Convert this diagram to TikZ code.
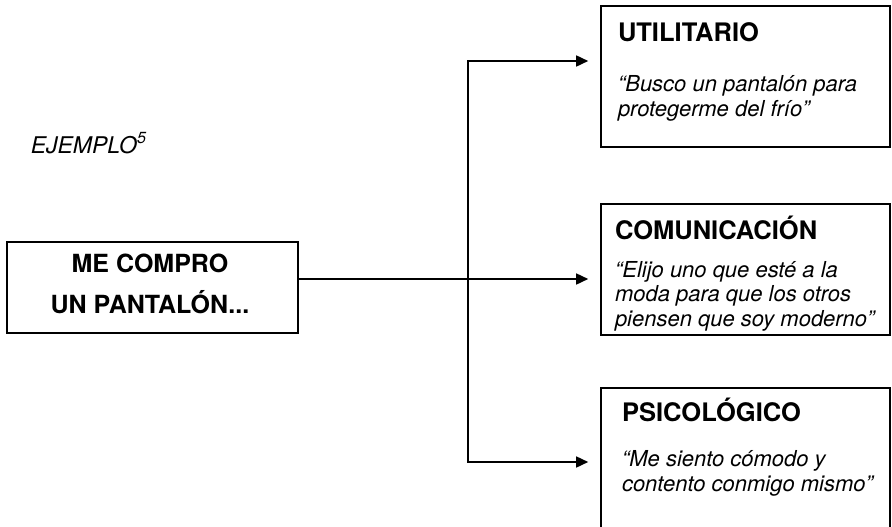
\documentclass[tikz,border=0pt]{standalone}
\usepackage{fontspec}
\setmainfont{TeX Gyre Heros}
\usetikzlibrary{arrows.meta, positioning}

\begin{document}
\begin{tikzpicture}[
    x = 1pt,
    y = -1pt,
    line width = 1.6pt,
    >={Triangle[length=12pt, width=11pt]},
    ]

    \tikzstyle{box}=[
    draw = black,
    fill = white,
    rectangle,
    inner sep = 0pt,
    ]
    \tikzstyle{title}=[inner sep=0pt, anchor=base west, font=\fontsize{25.5}{25.5}\selectfont\bfseries]
    \tikzstyle{quote}=[inner sep=0pt, anchor=base west, align=left, font=\fontsize{22}{24.5}\selectfont\itshape]

    \clip (0,0) rectangle (892,527);

    \node[box, minimum width=291pt, minimum height=91pt] (main) at (152.5,287.5) {};
    \node[box, minimum width=289pt, minimum height=141pt] (util) at (745.5,76.5) {};
    \node[box, minimum width=289pt, minimum height=131pt] (comu) at (745.5,269.5) {};
    \node[box, minimum width=289pt, minimum height=172pt] (psico) at (745.5,474) {};

    \node[inner sep=0pt, anchor=base west, font=\fontsize{23}{23}\selectfont\itshape] (ejemplo) at (30,153) {EJEMPLO\textsuperscript{5}};

    % base = baseline of the last line
    \node[inner sep=0pt, anchor=base, align=center, font=\fontsize{25}{41}\selectfont\bfseries] (mainlbl) at (150,313) {ME COMPRO\\UN PANTALÓN...};

    \node[title] (utilt) at ([shift={(17,36)}]util.north west) {UTILITARIO};
    \node[quote] (utilq) at ([shift={(17,111)}]util.north west) {“Busco un pantalón para\\protegerme del frío”};

    \node[title] (comut) at ([shift={(14,36)}]comu.north west) {COMUNICACIÓN};
    \node[quote] (comuq) at ([shift={(14,123)}]comu.north west) {“Elijo uno que esté a la\\moda para que los otros\\piensen que soy moderno”};

    \node[title] (psicot) at ([shift={(21,34)}]psico.north west) {PSICOLÓGICO};
    \node[quote] (psicoq) at ([shift={(21,104)}]psico.north west) {“Me siento cómodo y\\contento conmigo mismo”};

    \coordinate (jtop) at (468,61);
    \coordinate (jmid) at (468,279);
    \coordinate (jbot) at (468,462);

    \draw[<->, shorten <=12pt, shorten >=12pt] (jtop -| util.west) -- (jtop) -- (jbot) -- (jbot -| psico.west);
    \draw[->, shorten >=12pt] (main.east |- jmid) -- (jmid -| comu.west);
  \end{tikzpicture}
\end{document}
